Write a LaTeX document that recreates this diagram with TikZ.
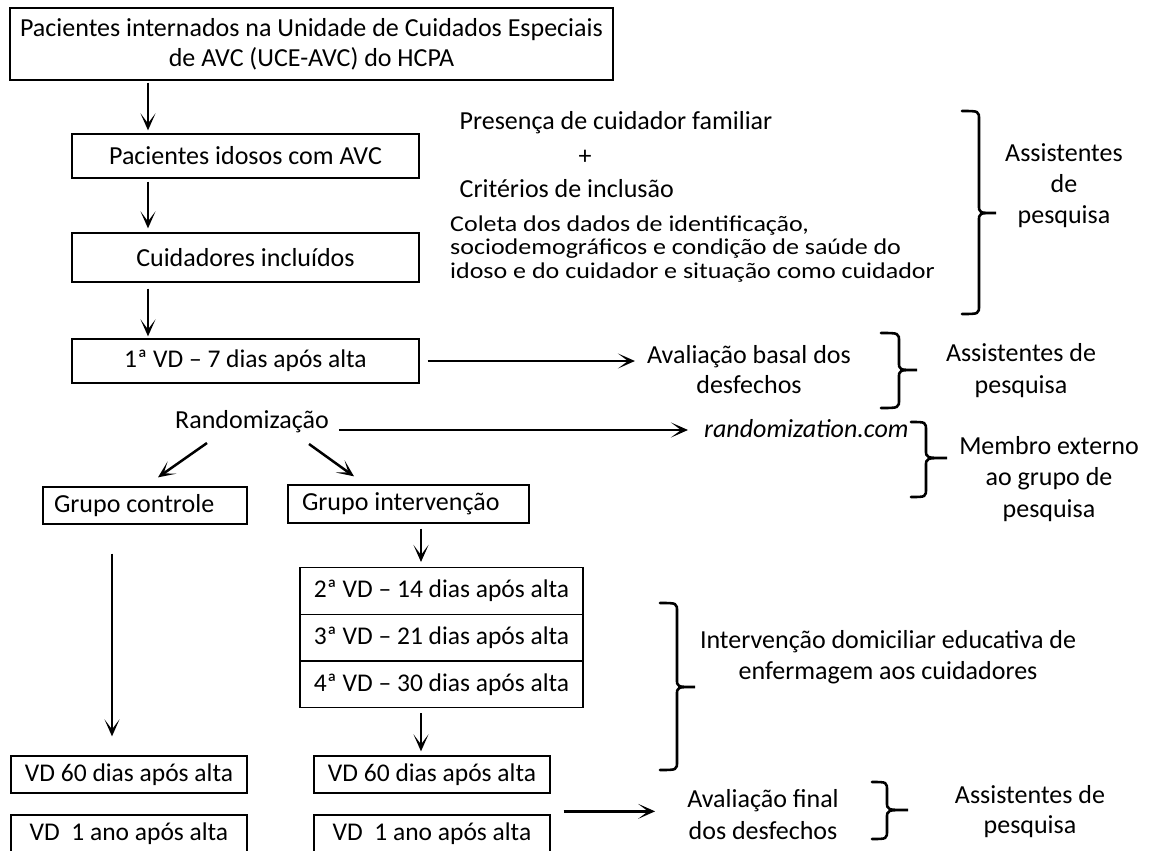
\documentclass[tikz,border=0pt]{standalone}
\usepackage{fontspec}
\setmainfont{Carlito}
\newfontfamily\colfont{Carlito}[FakeStretch=1.15]
\usetikzlibrary{arrows.meta,calc}
\newcommand\drawbrace[6]{%
  \draw[brc] (#1,#4) .. controls (#2,#4) .. (#2,#4+9) -- (#2,#5-8)
    .. controls (#2,#5) .. (#3,#5) .. controls (#2,#5) .. (#2,#5+8)
    -- (#2,#6-9) .. controls (#2,#6) .. (#1,#6);}
\begin{document}
\begin{tikzpicture}[x=1pt,y=-1pt,
  every node/.style={font=\fontsize{26}{30}\selectfont, inner sep=0pt},
  boxf/.style={font=\fontsize{25.5}{30}\selectfont},
  box/.style={draw, line width=1.3pt, align=center},
  arr/.style={line width=2.5pt, -{Stealth[length=17pt,width=15pt,inset=10pt]}},
  brc/.style={line width=2.6pt, line cap=round},
  txt/.style={align=center}
]
\useasboundingbox (0,0) rectangle (1149,851);
\fill[white] (0,0) rectangle (1149,851);

% left column boxes
\node[box, minimum width=603pt, minimum height=72pt] (top) at (311.5,44)
  {Pacientes internados na Unidade de Cuidados Especiais\\de AVC (UCE-AVC) do HCPA};
\node[box, minimum width=347pt, minimum height=44pt] (b2) at (245.5,156) {Pacientes idosos com AVC};
\node[box, minimum width=347pt, minimum height=49pt] (b3) at (245.5,257.5) {Cuidadores incluídos};
\node[box, boxf, minimum width=347pt, minimum height=44pt] (b4) at (245.5,361) {1ª VD – 7 dias após alta};
\node[txt] (rand) at (252,422) {Randomização};
\node[box, minimum width=204pt, minimum height=37pt] (gc) at (145,505.5) {\makebox[182pt][l]{Grupo controle}};
\node[box, minimum width=241pt, minimum height=38pt] (gi) at (408.5,504) {\makebox[213pt][l]{Grupo intervenção}};
\node[box, boxf, minimum width=283pt, minimum height=46.7pt] (s1) at (441.5,591) {2ª VD – 14 dias após alta};
\node[box, boxf, minimum width=283pt, minimum height=46.7pt] (s2) at (441.5,637.7) {3ª VD – 21 dias após alta};
\node[box, boxf, minimum width=283pt, minimum height=46.7pt] (s3) at (441.5,684.4) {4ª VD – 30 dias após alta};
\node[box, boxf, minimum width=236pt, minimum height=37pt] (v60l) at (129,774.5) {VD 60 dias após alta};
\node[box, boxf, minimum width=236pt, minimum height=37pt] (v60r) at (432,774.5) {VD 60 dias após alta};
\node[box, boxf, minimum width=236pt, minimum height=37pt] (v1l) at (129,833.5) {VD\ \ 1 ano após alta};
\node[box, boxf, minimum width=236pt, minimum height=37pt] (v1r) at (432,833.5) {VD\ \ 1 ano após alta};

% middle / right texts
\node[anchor=west] (pres) at (459.5,123) {Presença de cuidador familiar};
\node (plus) at (585,157) {+};
\node[anchor=west] (crit) at (459.5,189) {Critérios de inclusão};
\node[anchor=west, align=left, font=\colfont\fontsize{22.6}{23.5}\selectfont] (col) at (450,249)
  {Coleta dos dados de identificação,\\sociodemográficos e condição de saúde do\\idoso e do cuidador e situação como cuidador};
\node[txt, font=\fontsize{26}{31}\selectfont] (ass1) at (1064,186) {Assistentes\\de\\pesquisa};

\node[txt] (basal) at (749,370) {Avaliação basal dos\\desfechos};
\node[txt, font=\fontsize{26}{32}\selectfont] (ass2) at (1021,371) {Assistentes de\\pesquisa};
\node[anchor=west] (rcom) at (704,429) {\itshape randomization.com};
\node[txt, font=\fontsize{26}{31.5}\selectfont] (memb) at (1049,479) {Membro externo\\ao grupo de\\pesquisa};
\node[txt, font=\fontsize{26}{31}\selectfont] (interv) at (888,657) {Intervenção domiciliar educativa de\\enfermagem aos cuidadores};
\node[txt, font=\fontsize{26}{32}\selectfont] (final) at (763,815) {Avaliação final\\dos desfechos};
\node[txt] (ass3) at (1030,812) {Assistentes de\\pesquisa};

% connectors
\coordinate (ax) at (148,0);
\coordinate (gx) at (112,0);
\coordinate (ix) at (421,0);
\draw[arr, shorten <=2pt, shorten >=3pt] (top.south -| ax) -- (b2.north -| ax);
\draw[arr, shorten <=3pt, shorten >=4pt] (b2.south -| ax) -- (b3.north -| ax);
\draw[arr, shorten <=6pt, shorten >=2pt] (b3.south -| ax) -- (b4.north -| ax);
\draw[arr, shorten <=8pt, shorten >=12pt] (b4.east) -- (basal.west |- b4.east);
\draw[arr, shorten <=10pt, shorten >=16pt] (rand.east) ++(0,8) coordinate (re) (re) -- (rcom.west |- re);
\draw[arr] ($(rand.center)+(-45,21)$) -- ($(gc.north)+(13,-9)$);
\draw[arr] ($(rand.center)+(57,22)$) -- ($(gi.north)+(-54.5,-8)$);
\draw[arr, shorten <=5pt, shorten >=5pt] (gi.south -| ix) -- (s1.north -| ix);
\draw[arr, shorten <=29pt, shorten >=19pt] (gc.south -| gx) -- (v60l.north -| gx);
\draw[arr, shorten <=5pt, shorten >=4pt] (s3.south -| ix) -- (v60r.north -| ix);
\draw[arr, shorten <=13pt, shorten >=32pt] (v1r.north east) ++(0,-3) coordinate (fe) (fe) -- (final.west |- fe);

% braces
\drawbrace{962}{979}{996}{111}{213}{314}
\drawbrace{881}{899}{917}{333}{370}{408}
\drawbrace{911}{926}{947}{422}{458}{497}
\drawbrace{660}{677}{695}{603}{687}{770}
\drawbrace{872}{887}{908}{782}{810}{839}
\end{tikzpicture}
\end{document}
